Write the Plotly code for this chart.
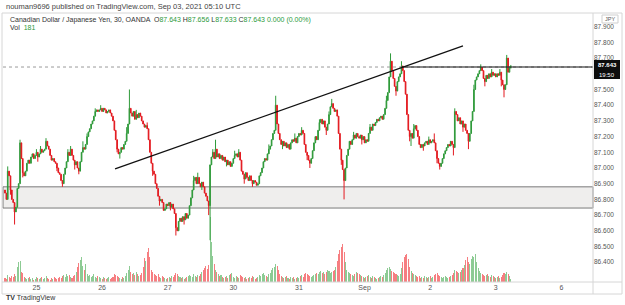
import plotly.graph_objects as go

# ---------------- data ----------------
closes = [
86.84, 86.80, 86.98, 86.95, 86.86, 86.80, 86.78, 86.72, 86.75, 86.87,
86.90, 87.16, 87.06, 86.97, 86.95, 86.98, 87.03, 87.05, 87.03, 87.07,
87.09, 87.06, 87.08, 87.10, 87.07, 87.09, 87.12, 87.10, 87.11, 87.12,
87.17, 87.14, 87.12, 87.08, 87.05, 87.06, 87.04, 87.03, 87.00, 86.97,
86.96, 86.92, 86.90, 86.96, 87.00, 87.04, 87.10, 87.08, 87.12, 87.08,
87.05, 87.02, 87.04, 87.00, 86.98, 87.04, 87.10, 87.13, 87.12, 87.15,
87.20, 87.23, 87.25, 87.28, 87.30, 87.33, 87.36, 87.37, 87.36, 87.37,
87.38, 87.36, 87.38, 87.37, 87.35, 87.36, 87.37, 87.35, 87.33, 87.30,
87.24, 87.18, 87.12, 87.09, 87.10, 87.13, 87.12, 87.15, 87.17, 87.22,
87.28, 87.38, 87.35, 87.33, 87.36, 87.31, 87.34, 87.32, 87.35, 87.33,
87.30, 87.28, 87.26, 87.27, 87.25, 87.18, 87.10, 87.03, 86.98, 86.96,
86.90, 86.87, 86.82, 86.79, 86.80, 86.78, 86.73, 86.74, 86.77, 86.76,
86.78, 86.75, 86.77, 86.74, 86.71, 86.62, 86.60, 86.66, 86.68, 86.66,
86.69, 86.67, 86.71, 86.68, 86.70, 86.76, 86.81, 86.86, 86.92, 86.94,
86.90, 86.94, 86.90, 86.88, 86.91, 86.88, 86.84, 86.82, 86.79, 86.76,
87.02, 87.07, 87.10, 87.06, 87.12, 87.07, 87.09, 87.06, 87.08, 87.05,
87.07, 87.04, 87.05, 87.02, 87.04, 87.01, 87.03, 87.06, 87.08, 87.09,
87.07, 87.10, 87.05, 86.98, 86.96, 86.93, 86.97, 86.94, 86.92, 86.95,
86.92, 86.90, 86.92, 86.91, 86.89, 86.90, 86.95, 86.97, 87.00, 87.04,
87.06, 87.05, 87.09, 87.12, 87.14, 87.18, 87.22, 87.24, 87.40, 87.28,
87.22, 87.18, 87.15, 87.17, 87.14, 87.16, 87.13, 87.15, 87.12, 87.16,
87.18, 87.17, 87.19, 87.16, 87.20, 87.22, 87.21, 87.24, 87.22, 87.15,
87.10, 87.08, 87.05, 87.03, 87.06, 87.11, 87.16, 87.20, 87.18, 87.24,
87.29, 87.31, 87.28, 87.30, 87.26, 87.24, 87.28, 87.34, 87.39, 87.41,
87.38, 87.36, 87.37, 87.33, 87.22, 87.12, 87.05, 86.99, 86.92, 87.00,
87.08, 87.12, 87.17, 87.15, 87.18, 87.21, 87.19, 87.22, 87.20, 87.19,
87.21, 87.18, 87.20, 87.16, 87.18, 87.17, 87.22, 87.26, 87.24, 87.28,
87.27, 87.29, 87.31, 87.30, 87.32, 87.33, 87.31, 87.34, 87.38, 87.43,
87.48, 87.58, 87.68, 87.62, 87.57, 87.52, 87.49, 87.55, 87.58, 87.60,
87.65, 87.62, 87.55, 87.47, 87.34, 87.24, 87.20, 87.22, 87.19, 87.25,
87.27, 87.24, 87.20, 87.15, 87.13, 87.15, 87.14, 87.16, 87.17, 87.15,
87.18, 87.16, 87.17, 87.18, 87.16, 87.11, 87.06, 87.03, 87.01, 87.03,
87.06, 87.09, 87.11, 87.13, 87.15, 87.14, 87.17, 87.15, 87.13, 87.36,
87.34, 87.30, 87.32, 87.28, 87.30, 87.26, 87.28, 87.24, 87.22, 87.17,
87.22, 87.30, 87.36, 87.50, 87.56, 87.58, 87.60, 87.62, 87.64, 87.62,
87.57, 87.55, 87.59, 87.57, 87.60, 87.58, 87.61, 87.59, 87.60, 87.58,
87.60, 87.59, 87.61, 87.56, 87.53, 87.50, 87.53, 87.70, 87.61, 87.643,
87.643,
]
first_open = 86.86

# wick extremes (bar index -> price)
wick_highs = {2: 87.01, 11: 87.18, 23: 87.12, 26: 87.14, 30: 87.19, 46: 87.12,
              48: 87.14, 57: 87.17, 60: 87.22, 66: 87.38, 70: 87.40, 80: 87.30,
              89: 87.26, 91: 87.50, 96: 87.37, 104: 87.29, 138: 86.95, 141: 86.97,
              152: 87.12, 154: 87.18, 168: 87.11, 171: 87.12, 193: 87.15,
              198: 87.46, 212: 87.22, 217: 87.26, 230: 87.31, 237: 87.36,
              239: 87.44, 255: 87.23, 267: 87.28, 279: 87.46, 282: 87.73,
              290: 87.68, 299: 87.28, 310: 87.20, 314: 87.22, 329: 87.38,
              343: 87.53, 348: 87.66, 356: 87.63, 362: 87.63, 367: 87.72,
              370: 87.656}
wick_lows = {4: 86.83, 7: 86.64, 13: 86.94, 24: 87.04, 38: 86.98, 42: 86.88,
             51: 86.99, 54: 86.96, 82: 87.10, 84: 87.06, 108: 86.95, 113: 86.76,
             121: 86.73, 125: 86.57, 131: 86.64, 144: 86.86, 149: 86.70,
             150: 86.54, 162: 87.01, 175: 86.90, 181: 86.88, 203: 87.12,
             221: 87.05, 223: 87.00, 235: 87.21, 246: 87.02, 248: 86.80,
             261: 87.15, 286: 87.46, 296: 87.17, 297: 87.14, 306: 87.11,
             316: 87.03, 318: 86.99, 328: 87.08, 335: 87.23, 339: 87.12,
             351: 87.52, 363: 87.52, 365: 87.45, 370: 87.633}

volumes = [
240, 180, 420, 300, 240, 360, 300, 480, 360, 900,
1200, 1260, 600, 540, 300, 240, 180, 240, 300, 180,
240, 150, 180, 300, 240, 180, 240, 300, 180, 240,
360, 240, 180, 150, 240, 180, 300, 240, 180, 240,
300, 240, 360, 420, 300, 480, 360, 420, 300, 240,
360, 420, 600, 900, 1140, 1320, 1500, 960, 720, 1080,
480, 360, 420, 300, 360, 480, 300, 240, 360, 300,
240, 180, 300, 240, 180, 240, 300, 180, 240, 300,
480, 420, 360, 300, 240, 180, 300, 240, 360, 540,
720, 960, 600, 480, 540, 420, 600, 480, 360, 420,
540, 900, 1440, 1260, 1800, 2040, 1500, 720, 600, 480,
420, 360, 480, 300, 240, 360, 300, 240, 180, 240,
300, 240, 360, 300, 420, 540, 480, 360, 300, 240,
300, 180, 240, 300, 360, 420, 360, 300, 480, 360,
300, 420, 360, 480, 600, 720, 840, 960, 780, 1020,
3900, 2400, 1560, 1080, 720, 600, 480, 360, 420, 300,
240, 300, 360, 240, 420, 480, 540, 300, 240, 360,
300, 240, 420, 360, 300, 240, 300, 180, 240, 300,
240, 360, 300, 180, 240, 300, 420, 360, 480, 540,
420, 360, 300, 480, 540, 720, 840, 900, 1080, 960,
720, 480, 360, 300, 240, 300, 360, 240, 180, 300,
240, 300, 180, 240, 300, 240, 360, 420, 300, 480,
540, 480, 420, 360, 300, 360, 420, 480, 540, 480,
600, 660, 540, 600, 480, 600, 720, 660, 540, 600,
660, 720, 900, 1260, 1680, 1920, 2100, 2280, 1800, 1200,
720, 600, 540, 480, 420, 360, 480, 600, 540, 480,
420, 360, 300, 240, 300, 360, 420, 300, 240, 360,
300, 240, 180, 240, 300, 360, 300, 420, 540, 720,
840, 900, 780, 660, 600, 540, 480, 420, 360, 480,
840, 1200, 1500, 1620, 1680, 1380, 900, 660, 540, 480,
420, 360, 300, 360, 240, 300, 240, 360, 300, 240,
300, 360, 240, 300, 420, 480, 540, 420, 360, 300,
240, 300, 360, 300, 240, 300, 360, 420, 540, 720,
660, 600, 540, 600, 720, 840, 1020, 1320, 1500, 1200,
1080, 1380, 1560, 1500, 1680, 1200, 840, 660, 540, 480,
420, 360, 420, 480, 360, 300, 420, 360, 300, 240,
300, 360, 240, 300, 420, 540, 480, 600, 480, 360,
181,
]

day_ticks = [23, 71, 119, 167, 215, 263, 311, 359, 407]
day_labels = ["25", "26", "27", "30", "31", "Sep", "2", "3", "6"]
# 87.600 sits under the last-price label in the reference, so it is not shown
price_ticks = [86.4, 86.5, 86.6, 86.7, 86.8, 86.9, 87.0, 87.1, 87.2, 87.3,
               87.4, 87.5, 87.7, 87.8, 87.9]
last_price = 87.643
zone_top, zone_bottom = 86.88, 86.745
trend_start = (80.5, 86.994)
trend_end = (335, 87.777)
ray_start = 290

# ---------------- derived OHLC ----------------
n = len(closes)
idx = list(range(n))
opens = [first_open] + closes[:-1]
opens[-1] = 87.643
highs = [max(o, c) for o, c in zip(opens, closes)]
lows = [min(o, c) for o, c in zip(opens, closes)]
for k, v in wick_highs.items():
    highs[k] = max(highs[k], v)
for k, v in wick_lows.items():
    lows[k] = min(lows[k], v)

UP = "#2f9a3a"
DN = "#e3191f"
vol_colors = ["rgba(47,160,60,0.55)" if c >= o else "rgba(240,40,45,0.6)"
              for o, c in zip(opens, closes)]

# ---------------- layout geometry (pixels) ----------------
W, H = 625, 305
L, R, T, B = 3, 32, 13, 23
PW, PH = W - L - R, H - T - B


def px(x):
    return (x - L) / PW


def py(y):
    return (H - B - y) / PH


fig = go.Figure()
fig.add_trace(go.Bar(
    x=idx, y=volumes, marker=dict(color=vol_colors, line=dict(width=0)),
    yaxis="y2", width=0.75, hoverinfo="skip", showlegend=False))
fig.add_trace(go.Candlestick(
    x=idx, open=opens, high=highs, low=lows, close=closes,
    increasing=dict(line=dict(color=UP, width=1), fillcolor=UP),
    decreasing=dict(line=dict(color=DN, width=1), fillcolor=DN),
    whiskerwidth=0, showlegend=False))

shapes = [
    dict(type="rect", xref="paper", yref="y", x0=0, x1=1, y0=zone_bottom, y1=zone_top,
         fillcolor="rgba(225,224,222,0.55)", line=dict(color="#7a7a7a", width=1), layer="below"),
    dict(type="line", xref="paper", yref="y", x0=0, x1=1, y0=last_price, y1=last_price,
         line=dict(color="#9a9a9a", width=1, dash="dot")),
    dict(type="line", xref="x", yref="y", x0=ray_start, x1=440, y0=last_price, y1=last_price,
         line=dict(color="#111111", width=1.2)),
    dict(type="line", xref="x", yref="y", x0=trend_start[0], y0=trend_start[1],
         x1=trend_end[0], y1=trend_end[1], line=dict(color="#111111", width=1.3)),
    dict(type="rect", xref="paper", yref="paper", x0=px(2), x1=px(622), y0=py(13), y1=py(294),
         line=dict(color="#d6d6d6", width=1), fillcolor="rgba(0,0,0,0)"),
    dict(type="line", xref="paper", yref="paper", x0=px(593), x1=px(593), y0=py(13), y1=py(294),
         line=dict(color="#d6d6d6", width=1)),
    dict(type="line", xref="paper", yref="paper", x0=px(2), x1=px(622), y0=py(282), y1=py(282),
         line=dict(color="#d6d6d6", width=1)),
    dict(type="rect", xref="paper", yref="paper", x0=px(594), x1=px(620), y0=py(60), y1=py(79),
         fillcolor="#0d0d0d", line=dict(width=0)),
    dict(type="rect", xref="paper", yref="paper", x0=px(602), x1=px(618), y0=py(15), y1=py(23),
         fillcolor="#ffffff", line=dict(color="#cfcfcf", width=1)),
]

FONT = "Liberation Sans, Arial, sans-serif"
G = "#2c9a3c"
ann = [
    dict(x=px(4), y=py(7), text="nouman9696 published on TradingView.com, Sep 03, 2021 05:10 UTC",
         font=dict(size=7.5, color="#444")),
    dict(x=px(8), y=py(20),
         text=("Canadian Dollar / Japanese Yen, 30, OANDA  "
               f"O<span style='color:{G}'>87.643</span> H<span style='color:{G}'>87.656</span> "
               f"L<span style='color:{G}'>87.633</span> C<span style='color:{G}'>87.643</span> "
               f"<span style='color:{G}'>0.000 (0.00%)</span>"),
         font=dict(size=7, color="#333")),
    dict(x=px(8), y=py(28), text=f"Vol  <span style='color:{G}'>181</span>",
         font=dict(size=7, color="#333")),
    dict(x=px(607), y=py(64.5), text="<b>87.643</b>", xanchor="center",
         font=dict(size=6, color="#ffffff")),
    dict(x=px(607), y=py(74.5), text="19:50", xanchor="center",
         font=dict(size=6, color="#ffffff")),
    dict(x=px(610), y=py(19), text="JPY", xanchor="center",
         font=dict(size=5.5, color="#555")),
    dict(x=px(4), y=py(298), text="<b>TV</b> TradingView",
         font=dict(size=7, color="#333")),
]
for a in ann:
    a.setdefault("xanchor", "left")
    a.update(xref="paper", yref="paper", yanchor="middle", showarrow=False, font_family=FONT)

fig.update_layout(
    width=W, height=H, margin=dict(l=L, r=R, t=T, b=B),
    paper_bgcolor="white", plot_bgcolor="white",
    showlegend=False, bargap=0, shapes=shapes, annotations=ann,
    font=dict(family=FONT, size=7, color="#555"),
    xaxis=dict(range=[-1.46, 430.1], tickvals=day_ticks, ticktext=day_labels,
               showgrid=False, zeroline=False, rangeslider=dict(visible=False),
               ticks="", tickfont=dict(size=7, color="#555"), showline=False),
    yaxis=dict(range=[86.274, 87.987], side="right", tickvals=price_ticks,
               ticktext=[f"{v:.3f}" for v in price_ticks], showgrid=False, zeroline=False,
               ticks="", tickfont=dict(size=6.5, color="#555"), showline=False),
    yaxis2=dict(range=[0, 269 * 60], overlaying="y", visible=False, fixedrange=True),
)

fig.write_html("out.html")
